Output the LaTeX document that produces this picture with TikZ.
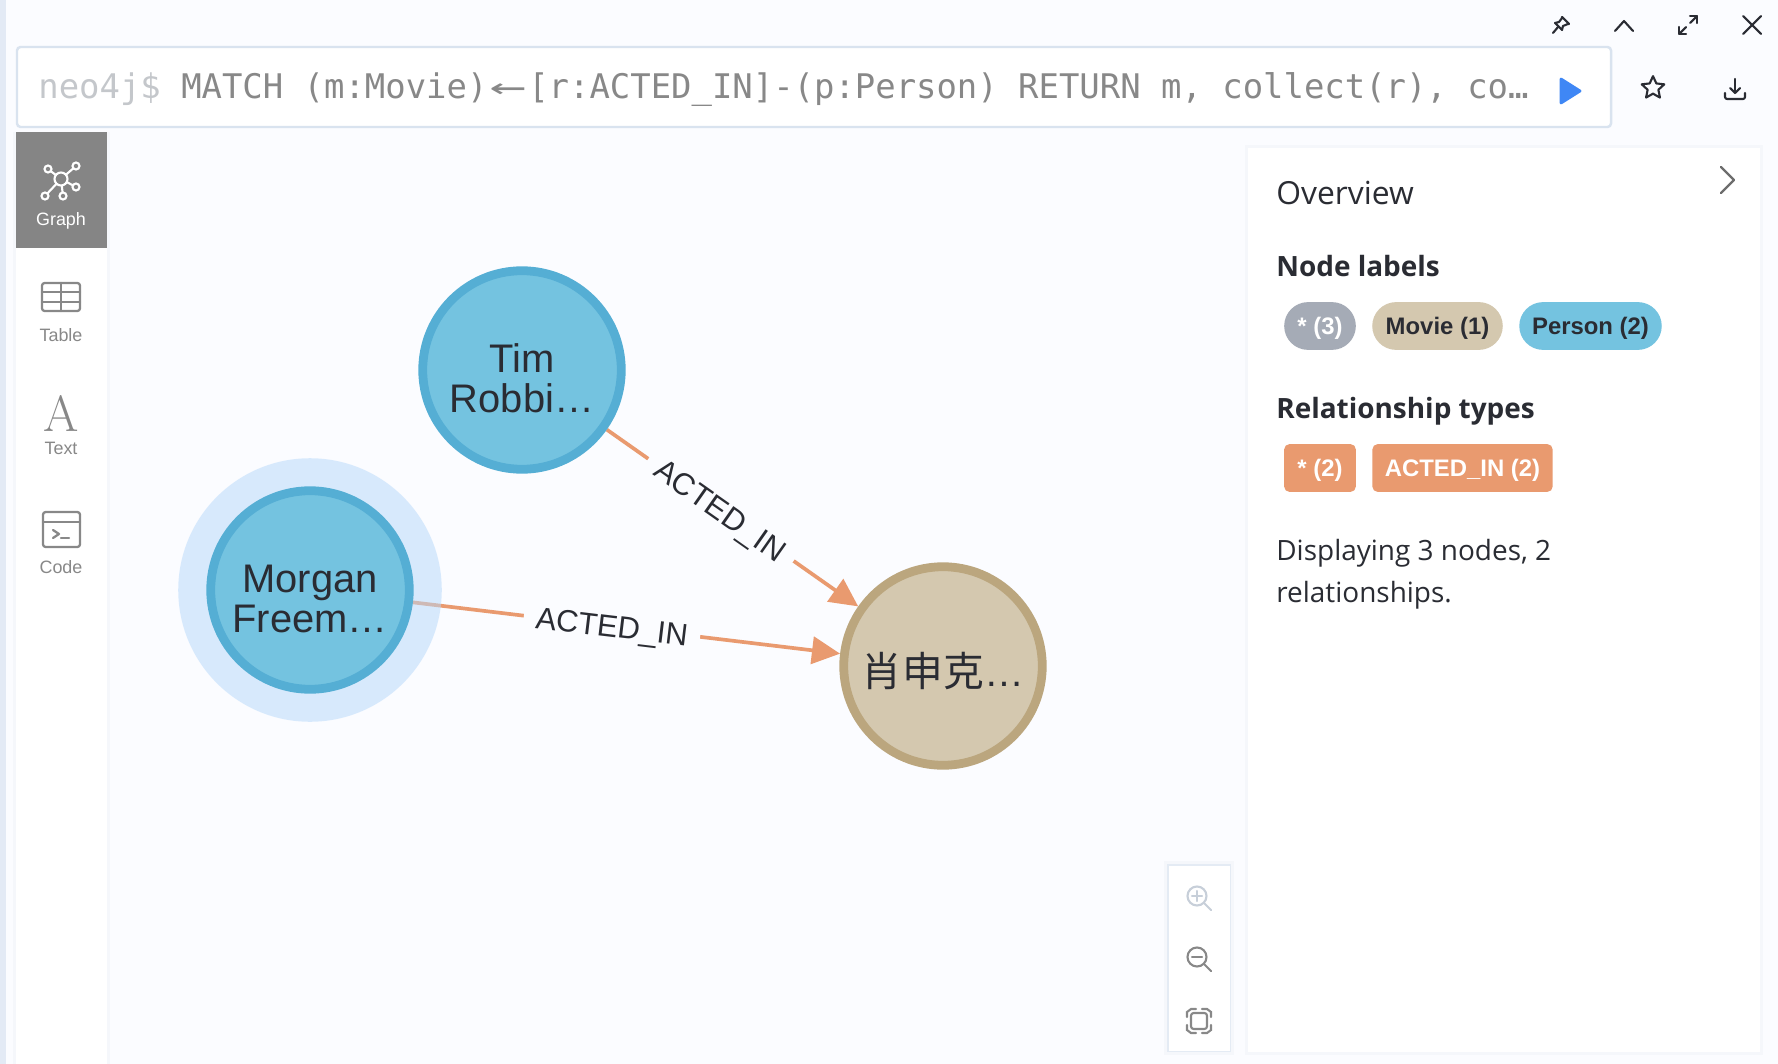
\documentclass[tikz,border=0pt]{standalone}
\usepackage{fontspec}
\usepackage{tikz}
\usepackage{color}
\usetikzlibrary{arrows.meta,shapes.geometric}
\setmainfont{Liberation Sans}
\newfontfamily\opensans{Open Sans}
\newfontfamily\querymono{DejaVu Sans Mono}
\newfontfamily\letterserif{lmroman17-regular.otf}
\newfontfamily\cjk{Noto Sans CJK SC}
\definecolor{pagebg}{HTML}{FBFCFF}
\definecolor{stripc}{HTML}{E3EAF5}
\definecolor{framec}{HTML}{D9E3EF}
\definecolor{shadowc}{HTML}{F5F7FB}
\definecolor{tabc}{HTML}{858585}
\definecolor{iconc}{HTML}{888888}
\definecolor{promptc}{HTML}{C4C7CB}
\definecolor{playc}{HTML}{3F87F5}
\definecolor{inkc}{HTML}{2A2C33}
\definecolor{personc}{HTML}{74C3E0}
\definecolor{personedge}{HTML}{55AED4}
\definecolor{moviec}{HTML}{D4C8AF}
\definecolor{movieedge}{HTML}{BBA67E}
\definecolor{orangec}{HTML}{E99A6F}
\definecolor{allc}{HTML}{A5ABB6}
\definecolor{haloc}{RGB}{181,216,251}
\pgfdeclarelayer{under}
\pgfdeclarelayer{halolayer}
\pgfsetlayers{under,halolayer,main}
\begin{document}
\begin{tikzpicture}[x=0.02cm,y=0.02cm]
\tikzstyle{every node}+=[inner sep=0pt]
\tikzstyle{person}=[circle,draw=personedge,fill=personc,line width=5pt,minimum size=113pt,text=inkc,align=center,font=\fontsize{22.7}{22.7}\selectfont,text height=48.8pt,text depth=0pt]
\tikzstyle{movie}=[circle,draw=movieedge,fill=moviec,line width=5pt,minimum size=113pt,text=inkc,font=\fontsize{22.7}{22.7}\selectfont,text height=26pt,text depth=3pt]
\tikzstyle{halo}=[circle,fill=haloc,fill opacity=0.5,minimum size=150pt]
\tikzstyle{rel}=[draw=orangec,line width=2.1pt,-{Triangle[length=16pt,width=15.5pt]}]
\tikzstyle{rellabel}=[fill=pagebg,sloped,minimum width=101pt,minimum height=17pt,text=inkc,font=\fontsize{17.6}{17.6}\selectfont,text height=12.6pt,text depth=0pt]
\tikzstyle{tablabel}=[text=iconc,font=\fontsize{10.2}{10.2}\selectfont]
\tikzstyle{tool}=[draw=inkc,line width=1.2pt,line cap=round,line join=round]
\tikzstyle{side}=[draw=iconc,line width=1.3pt,line cap=round,line join=round]
\tikzstyle{lens}=[draw=iconc,line width=1.2pt,line cap=round]
\tikzstyle{head}=[anchor=base west,text=inkc,font=\opensans\bfseries\fontsize{15.9}{15.9}\selectfont]
\tikzstyle{body}=[anchor=base west,text=inkc,font=\opensans\fontsize{15.9}{15.9}\selectfont]
\tikzstyle{pill}=[rounded corners=13.6pt,minimum height=27.2pt,font=\bfseries\fontsize{13.6}{13.6}\selectfont,text=inkc,text height=9.8pt,text depth=0pt]
\tikzstyle{tag}=[rounded corners=3pt,minimum height=27.2pt,fill=orangec,font=\bfseries\fontsize{13.6}{13.6}\selectfont,text=white,text height=9.8pt,text depth=0pt]
\useasboundingbox (0,0) rectangle (1778,-1064);
\begin{pgfonlayer}{under}
\fill [pagebg] (0,0) rectangle (1778,-1064);
\end{pgfonlayer}
\fill [stripc] (0,0) rectangle (6,-1064);
\fill [shadowc] (13,-132) rectangle (110,-1064);
\fill [white] (16,-132) rectangle (107,-1064);
\fill [tabc] (16,-132) rectangle (107,-248);
\draw [framec,fill=white,line width=1.4pt,rounded corners=2pt] (17,-47) rectangle (1611,-127);
\node (query) [anchor=base west,text=iconc,font=\querymono\fontsize{19.3}{19.3}\selectfont] at (38,-99) {\textcolor{promptc}{neo4j\$} MATCH (m:Movie)\makebox[2\fontcharwd\font`M]{\scalebox{1.8}[1]{←}}[r:ACTED\_IN]-(p:Person) RETURN m, collect(r), co…};
\fill [playc,draw=playc,line width=1.6pt,line join=round] (1561,-79) -- (1580,-91) -- (1561,-103) -- cycle;
\draw [tool] (1553,-33) -- (1558,-27);
\draw [tool] (1555,-23) -- (1562,-30) -- (1563,-26) -- (1568,-24) -- (1569,-24) -- (1562,-17) -- (1562,-18) -- (1559,-22) -- cycle;
\draw [tool] (1615,-31) -- (1624,-21) -- (1633,-31);
\draw [tool] (1679,-34) -- (1686,-27);
\draw [tool] (1679,-27) -- (1679,-34) -- (1686,-34);
\draw [tool] (1690,-23) -- (1697,-16);
\draw [tool] (1690,-16) -- (1697,-16) -- (1697,-23);
\draw [tool] (1743,-16) -- (1761,-34);
\draw [tool] (1761,-16) -- (1743,-34);
\node (fav) [star,star points=5,star point ratio=2.1,draw=inkc,line width=1.2pt,minimum size=13.5pt,line join=round] at (1653,-88) {};
\draw [tool] (1735,-79) -- (1735,-93);
\draw [tool] (1730,-88) -- (1735,-93) -- (1740,-88);
\draw [tool] (1725,-93) -- (1725,-97) arc (180:270:2) -- (1743,-99) arc (270:360:2) -- (1745,-93);
\draw [white,line width=1.2pt] (61,-179) -- (48,-169);
\draw [white,line width=1.2pt] (61,-179) -- (76,-166);
\draw [white,line width=1.2pt] (61,-179) -- (76,-187);
\draw [white,line width=1.2pt] (61,-179) -- (63,-196);
\draw [white,line width=1.2pt] (61,-179) -- (45,-196);
\draw [white,fill=tabc,line width=1.2pt] (61,-179) circle (6.5);
\draw [white,fill=tabc,line width=1.2pt] (48,-169) circle (3.5);
\draw [white,fill=tabc,line width=1.2pt] (76,-166) circle (3.5);
\draw [white,fill=tabc,line width=1.2pt] (76,-187) circle (3.5);
\draw [white,fill=tabc,line width=1.2pt] (63,-196) circle (3.5);
\draw [white,fill=tabc,line width=1.2pt] (45,-196) circle (3.5);
\node (graphtab) [tablabel,text=white] at (61,-221) {Graph};
\draw [side,rounded corners=1.5pt] (42,-283) rectangle (80,-311);
\draw [side] (42,-292) -- (80,-292);
\draw [side] (42,-302) -- (80,-302);
\draw [side] (61,-283) -- (61,-311);
\node (tabletab) [tablabel] at (61,-335) {Table};
\node (textglyph) [text=iconc,font=\letterserif\fontsize{29}{29}\selectfont] at (61,-413) {A};
\node (texttab) [tablabel] at (61,-448) {Text};
\draw [side,rounded corners=1.5pt] (43,-512) rectangle (80,-547);
\draw [side] (43,-522) -- (80,-522);
\draw [side] (53,-530) -- (59,-534) -- (53,-538);
\draw [side] (61,-538) -- (69,-538);
\node (codetab) [tablabel] at (61,-567) {Code};
\node (tim) [person] at (522,-370) {Tim\\Robbi…};
\node (morgan) [person] at (310,-590) {Morgan\\Freem…};
\node (shawshank) [movie] at (943,-666) {{\cjk\fontsize{23.2}{23.2}\selectfont 肖申克}…};
\begin{pgfonlayer}{halolayer}
\node (morganhalo) [halo] at (morgan) {};
\end{pgfonlayer}
\begin{pgfonlayer}{under}
\draw [rel] (tim) -- node [rellabel,pos=0.454] (timrel) {ACTED\_IN} (shawshank);
\draw [rel] (morgan) -- node [rellabel,pos=0.466] (morganrel) {ACTED\_IN} (shawshank);
\end{pgfonlayer}
\fill [shadowc] (1164,-861) rectangle (1234,-1055);
\fill [framec!70!white] (1167,-864) rectangle (1231,-1052);
\fill [white] (1169,-866) rectangle (1230,-1051);
\draw [lens,draw=framec!80!gray] (1197,-896) circle (9.5);
\draw [lens,draw=framec!80!gray] (1204,-903) -- (1211,-910);
\draw [lens,draw=framec!80!gray] (1192,-896) -- (1202,-896);
\draw [lens,draw=framec!80!gray] (1197,-891) -- (1197,-901);
\draw [lens] (1197,-957) circle (9.5);
\draw [lens] (1204,-964) -- (1211,-971);
\draw [lens] (1192,-957) -- (1202,-957);
\draw [lens,rounded corners=1.5pt] (1191,-1013) rectangle (1207,-1029);
\draw [lens] (1187,-1017) -- (1187,-1012) -- (1191,-1009) -- (1196,-1009);
\draw [lens] (1202,-1009) -- (1207,-1009) -- (1211,-1012) -- (1211,-1017);
\draw [lens] (1211,-1025) -- (1211,-1030) -- (1207,-1033) -- (1202,-1033);
\draw [lens] (1196,-1033) -- (1191,-1033) -- (1187,-1030) -- (1187,-1025);
\fill [shadowc] (1245,-145) rectangle (1763,-1055);
\fill [white] (1248,-148) rectangle (1760,-1052);
\draw [iconc!80!black,line width=1.3pt,line cap=round,line join=round] (1721,-167) -- (1734,-180) -- (1721,-193);
\node (overview) [body,font=\opensans\fontsize{18.1}{18.1}\selectfont] at (1276,-204.5) {Overview};
\node (nodelabels) [head] at (1276,-276) {Node labels};
\node (allnodes) [pill,fill=allc,text=white,minimum width=40.8pt] at (1320,-326) {* (3)};
\node (moviepill) [pill,fill=moviec,minimum width=74.3pt] at (1437.5,-326) {Movie (1)};
\node (personpill) [pill,fill=personc,minimum width=81.1pt] at (1590.5,-326) {Person (2)};
\node (reltypes) [head] at (1276,-418) {Relationship types};
\node (allrels) [tag,minimum width=40.8pt] at (1320,-468) {* (2)};
\node (actedtag) [tag,minimum width=102.6pt] at (1462.5,-468) {ACTED\_IN (2)};
\node (display1) [body] at (1276,-560) {Displaying 3 nodes, 2};
\node (display2) [body] at (1276,-602) {relationships.};
\end{tikzpicture}
\end{document}
